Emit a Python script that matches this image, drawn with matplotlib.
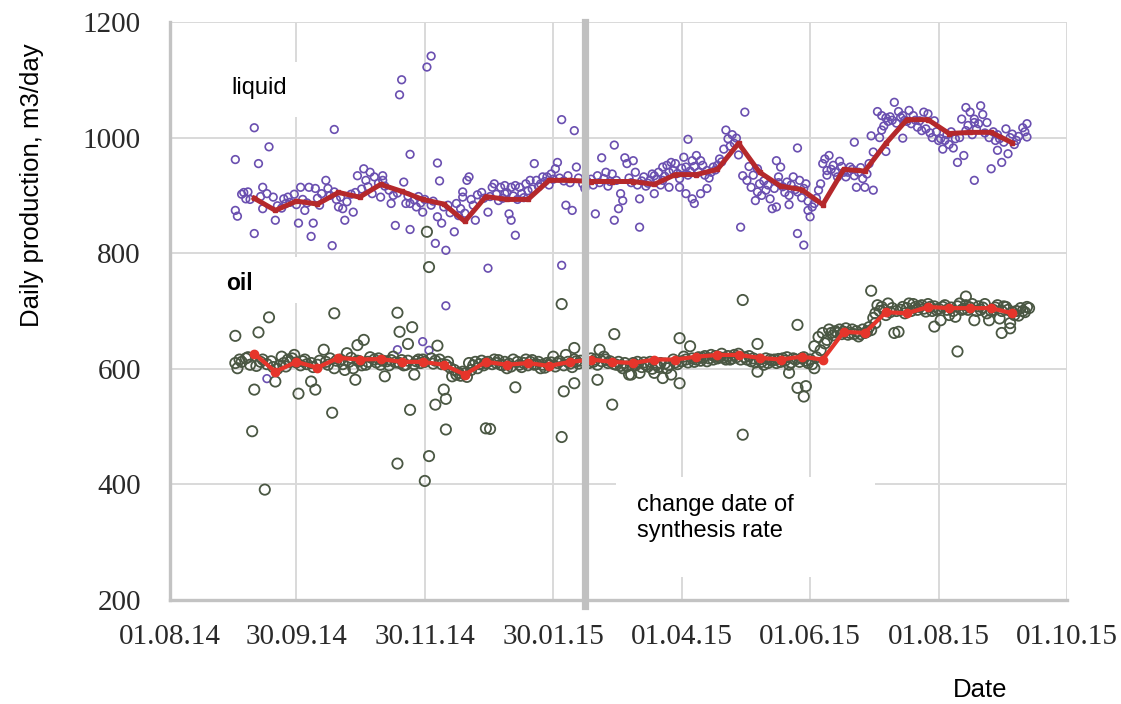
import datetime as dt
import matplotlib
matplotlib.use("Agg")
import matplotlib.pyplot as plt
import matplotlib.dates as mdates
from matplotlib.patches import Rectangle

# ---------------- data (days counted from 01.08.2014) ----------------
start_date = dt.date(2014, 8, 1)

liquid_points = [
    (40,1017),(78,1014),(47,984),(31,962),(42,955),
    (34,902),(36,894),(37,906),(44,914),(46,903),(49,897),(54,894),(56,897),(59,902),(62,914),
    (66,914),(69,912),(72,903),(74,926),(75,912),(78,906),(80,880),
    (31,874),(32,864),(44,877),(50,857),(55,886),(61,852),(64,874),(68,852),(67,829),(40,834),(77,813),
    (46,583),
    (124,1141),(122,1122),(110,1100),(109,1074),(114,971),(127,956),(128,925),(142,932),(141,926),
    (89,934),(92,946),(95,940),(97,932),(101,934),(101,926),(93,926),(111,923),
    (81,897),(86,902),(82,877),(87,871),(83,857),(100,897),(105,886),
    (112,886),(114,886),(117,880),(120,871),(107,848),(114,841),(127,863),(129,852),(126,817),(131,805),(135,837),
    (136,886),(139,897),(139,906),(144,883),(145,857),(124,883),
    (131,709),(120,647),(123,632),(108,633),
    (186,1031),(192,1012),(211,987),(205,965),(216,965),(173,955),
    (184,957),(183,946),(181,937),(179,932),(177,932),(174,926),(171,926),(169,920),(166,914),(164,917),
    (162,914),(159,917),(157,914),(154,920),(153,914),
    (189,934),(193,949),(159,903),(161,868),(162,857),(164,831),(151,871),(188,883),(191,874),(196,920),
    (197,912),(202,868),(211,857),
    (203,934),(207,940),(210,937),(212,926),(214,903),(215,891),(213,877),(217,955),
    (151,774),(186,779),
    (273,1044),(246,997),(264,1013),(267,1005),(269,999),(265,998),(263,980),(271,845),(223,845),
    (220,960),(221,940),(225,932),(223,894),(228,926),(230,934),(232,940),(234,949),(236,952),(238,957),
    (240,955),(234,926),(237,914),(230,903),(229,937),
    (244,966),(245,949),(248,960),(250,969),(252,960),(253,952),(251,940),(255,943),(258,949),(261,963),
    (242,914),(245,903),(248,894),(249,886),(252,903),(255,912),(242,929),
    (272,934),(274,926),(276,914),(279,906),(278,891),(281,900),(283,909),(285,894),(286,877),(279,946),
    (298,982),(288,960),(290,949),(289,932),(288,880),(293,923),(296,932),(299,926),(302,920),(294,900),
    (294,884),(298,906),(301,912),(298,834),(301,814),(303,874),(304,863),(306,886),(308,909),
    (310,955),(311,963),(313,969),(312,943),(315,952),(318,959),(320,940),(321,932),(323,949),(317,932),
    (325,934),(326,914),(329,929),(330,914),(331,937),(334,909),(325,992),
    (333,1003),(338,1013),(340,976),(336,1045),(338,1038),(340,1034),(342,1036),(344,1061),(346,1045),
    (348,1038),(348,999),(351,1047),(353,1038),(355,1018),(356,1029),
    (358,1044),(360,1041),(357,1012),(363,1029),(365,995),(367,980),(368,995),(370,988),(372,982),(373,998),
    (374,957),(377,969),(378,1052),(380,1044),(382,1032),(385,1055),(386,1040),(388,1026),(376,1032),
    (379,1021),(382,1026),(384,1024),(382,926),(390,946),(393,978),(395,957),(397,1015),(398,972),
    (400,1006),(402,995),(405,1017),(407,1024),(407,1001),(394,998),(392,995),
]

liquid_band_points = [
    (35,905),(38,893),(43,898),(51,882),(53,878),(57,888),(60,884),(63,893),(65,887),(70,895),(71,883),
    (76,900),(79,893),(84,889),(88,905),(91,911),(94,915),(96,903),(99,921),(102,916),(104,909),(106,900),
    (108,904),(113,899),(116,892),(118,898),(119,887),(121,893),(125,890),(130,880),(132,883),(133,870),
    (137,865),(138,877),(140,869),(143,893),(146,901),(148,905),(149,895),(152,898),(155,902),(156,891),
    (158,895),(160,905),(163,899),(165,893),(167,903),(168,896),(170,908),(172,911),(175,915),(176,920),
    (178,924),(180,918),(182,928),(185,930),(187,925),(190,922),(194,930),(198,925),(200,928),(201,918),
    (204,922),(206,929),(208,916),(209,924),(218,930),(219,922),(222,918),(224,925),(226,916),(227,921),
    (231,928),(233,918),(235,933),(237,940),(239,943),(241,938),(243,947),(246,935),(247,942),(249,950),
    (254,935),(256,930),(257,940),(259,944),(260,952),(262,958),(266,985),(268,990),(270,970),(275,950),
    (277,935),(280,920),(282,925),(284,918),(287,912),(289,922),(291,915),(292,905),(295,918),(297,910),
    (300,896),(303,890),(305,880),(307,895),(309,920),(312,935),(314,945),(316,940),(319,950),(322,940),
    (324,945),(327,940),(328,948),(332,955),(334,975),(337,1000),(339,1020),(341,1028),(343,1030),
    (345,1025),(347,1035),(349,1030),(350,1028),(352,1024),(354,1030),(359,1015),(361,1008),(362,1000),
    (364,1010),(366,998),(369,1005),(371,1010),(375,1000),(378,1012),(381,1005),(383,1015),(387,1008),
    (389,1000),(391,1010),(393,1005),(396,992),(399,1000),(401,988),(403,1002),(406,1010),
]

oil_points = [
    (47,689),(31,657),(42,663),(78,696),
    (31,610),(33,616),(36,618),(38,607),(44,616),(48,613),(53,621),(56,616),(59,624),(64,616),(67,610),
    (73,633),(75,607),(78,601),(32,601),(54,610),
    (50,578),(40,564),(61,557),(67,578),(69,564),(77,524),(39,492),(45,391),
    (122,837),(123,776),(108,697),(109,664),(115,672),(113,643),(89,641),(92,650),(127,640),
    (81,616),(84,627),(87,601),(90,613),(93,607),(97,616),(100,607),(103,613),(106,621),(109,610),
    (112,607),(117,613),(120,616),(124,618),(128,616),(131,607),(83,598),(102,587),(88,581),(116,590),
    (134,587),(137,593),(142,610),(146,601),
    (130,564),(131,548),(126,538),(114,529),(131,495),(150,497),(108,436),(123,449),(121,406),
    (186,712),(211,660),(152,496),(186,482),(164,568),(187,561),(192,575),(203,581),(210,538),(204,633),
    (150,610),(154,616),(157,607),(160,601),(163,616),(166,607),(169,616),(173,607),(176,601),(179,610),
    (182,621),(185,613),(188,624),(192,636),(192,616),(202,616),(206,621),(209,613),(212,607),(215,601),
    (218,590),
    (272,719),(272,486),(242,653),(247,639),(279,643),
    (220,610),(223,593),(226,607),(230,593),(233,610),(236,601),(238,590),(242,575),(239,616),(244,621),
    (250,616),(255,613),(260,618),(264,616),(268,624),(271,616),(276,613),(279,595),(282,607),(285,616),
    (219,590),(234,584),
    (333,735),(298,676),(287,616),(291,618),(294,607),(297,616),(300,618),(303,610),(306,601),(294,593),
    (298,567),(302,570),(301,552),
    (306,639),(308,655),(310,662),(313,668),(314,662),(311,644),(317,662),(322,659),(327,656),(330,662),
    (333,667),(335,679),
    (335,696),(338,707),(341,713),(344,662),(346,664),(348,707),(351,713),(354,707),(336,710),(340,693),
    (378,725),(375,713),(374,630),(395,662),(363,673),
    (356,707),(359,699),(361,707),(364,702),(367,707),(370,693),(373,690),(376,702),(379,702),(382,684),
    (385,702),(388,696),(391,702),(394,687),(397,707),(399,679),(401,693),(404,705),(407,707),(408,705),
    (366,684),(389,684),(399,670),
]

oil_band_points = [
    (34,612),(37,620),(41,605),(43,612),(46,608),(49,603),(51,600),(52,606),(55,604),(57,612),(58,618),
    (60,611),(62,606),(63,613),(65,608),(68,603),(70,607),(71,614),(74,612),(76,618),(79,614),(82,608),
    (85,612),(86,619),(89,614),(91,606),(94,612),(95,620),(98,611),(99,618),(101,614),(104,606),(105,615),
    (107,611),(110,615),(111,606),(113,614),(116,608),(118,616),(119,610),(121,612),(125,609),(126,614),
    (129,608),(132,612),(133,602),(135,598),(136,590),(138,588),(139,595),(140,592),(141,586),(143,598),
    (144,606),(145,612),(147,608),(148,614),(149,606),(151,612),(153,608),(155,610),(156,615),(158,606),
    (159,612),(161,609),(162,604),(165,612),(167,603),(168,610),(170,606),(171,612),(172,615),(174,608),
    (175,612),(177,607),(178,602),(180,606),(181,611),(183,604),(184,610),(187,606),(189,612),(190,609),
    (191,603),(193,613),(194,609),(195,614),(199,610),(200,618),(201,612),(203,607),(205,613),(207,616),
    (208,610),(211,608),(213,612),(214,605),(216,610),(217,604),(221,606),(222,612),(224,603),(225,611),
    (227,604),(228,612),(229,600),(231,607),(232,603),(235,609),(237,606),(240,611),(241,608),(243,613),
    (245,616),(246,611),(248,618),(249,612),(251,620),(252,614),(253,619),(254,622),(256,618),(257,624),
    (258,616),(259,622),(261,620),(262,626),(263,619),(265,622),(266,616),(267,618),(269,620),(270,626),
    (273,620),(274,616),(275,622),(277,618),(278,611),(280,616),(281,612),(283,618),(284,610),(286,614),
    (288,610),(289,617),(290,612),(292,614),(293,620),(295,611),(296,618),(299,612),(301,620),(302,614),
    (304,616),(305,608),(307,620),(309,632),(312,650),(315,658),(316,665),(318,668),(319,660),(320,664),
    (321,670),(323,662),(324,668),(325,660),(326,665),(328,660),(329,668),(331,664),(332,672),(334,688),
    (337,700),(339,702),(342,698),(343,705),(345,700),(347,702),(349,696),(350,705),(352,700),(353,712),
    (355,702),(357,710),(358,704),(360,712),(362,700),(363,708),(365,704),(368,710),(369,702),(371,706),
    (372,700),(374,708),(377,704),(378,710),(380,706),(381,712),(383,700),(384,708),(386,706),(387,712),
    (390,700),(392,706),(393,710),(395,700),(396,708),(398,702),(400,698),(402,700),(403,692),(405,700),
    (406,698),
]

# ten-day averages
avg_days = [40, 50, 60, 70, 80, 90, 100, 110, 120, 130, 140, 150, 160, 170, 180, 190, 200, 210, 220,
            230, 240, 250, 260, 270, 280, 290, 300, 310, 320, 330, 340, 350, 360, 370, 380, 390, 400]
liquid_avg = [895, 874, 890, 885, 905, 897, 919, 907, 893, 885, 855, 898, 893, 893, 926, 926, 924, 924, 924,
              919, 936, 936, 945, 990, 940, 916, 910, 884, 945, 942, 990, 1031, 1031, 1007, 1009, 1009, 991]
oil_avg = [626, 595, 612, 602, 619, 616, 617, 612, 612, 607, 590, 612, 607, 610, 605, 612, 616, 612, 610,
           616, 616, 621, 624, 624, 619, 616, 621, 616, 664, 662, 698, 696, 707, 705, 705, 705, 696]

change_date = dt.date(2015, 2, 14)

tick_dates = [dt.date(2014, 8, 1), dt.date(2014, 9, 30), dt.date(2014, 11, 30), dt.date(2015, 1, 30),
              dt.date(2015, 4, 1), dt.date(2015, 6, 1), dt.date(2015, 8, 1), dt.date(2015, 10, 1)]
tick_labels = ["01.08.14", "30.09.14", "30.11.14", "30.01.15", "01.04.15", "01.06.15", "01.08.15", "01.10.15"]
y_ticks = [200, 400, 600, 800, 1000, 1200]

# ---------------- plotting ----------------
base = mdates.date2num(start_date)

def to_x(days):
    return [base + d for d in days]

fig = plt.figure(figsize=(11.21, 7.04), dpi=100)
ax = fig.add_axes([0.1517, 0.1477, 0.8001, 0.8211])

ax.set_xlim(mdates.date2num(tick_dates[0]), mdates.date2num(tick_dates[-1]))
ax.set_ylim(200, 1200)
ax.set_xticks([mdates.date2num(d) for d in tick_dates])
ax.set_xticklabels(tick_labels)
ax.set_yticks(y_ticks)
ax.set_yticklabels([str(v) for v in y_ticks])
ax.tick_params(axis="both", length=0, labelsize=21, labelcolor="#2a2a2a")
ax.tick_params(axis="x", pad=17)
ax.tick_params(axis="y", pad=21)
for lab in ax.get_xticklabels() + ax.get_yticklabels():
    lab.set_family("Liberation Serif")

ax.grid(True, color="#d9d9d9", linewidth=1.4, zorder=0)
ax.set_axisbelow(True)
for s in ("top", "right"):
    ax.spines[s].set_visible(False)
for s in ("left", "bottom"):
    ax.spines[s].set_color("#c3c3c3")
    ax.spines[s].set_linewidth(2.4)

# white label boxes
for (x0, y0, w, h) in [(0.0446, 0.8356, 0.1561, 0.0952),
                       (0.0468, 0.5138, 0.0948, 0.0796),
                       (0.4972, 0.0398, 0.2888, 0.1730)]:
    ax.add_patch(Rectangle((x0, y0), w, h, transform=ax.transAxes, facecolor="white",
                           edgecolor="none", zorder=1))

all_liquid = liquid_points + liquid_band_points
all_oil = oil_points + oil_band_points
ld = [p[0] for p in all_liquid]
lv = [p[1] for p in all_liquid]
od = [p[0] for p in all_oil]
ov = [p[1] for p in all_oil]

ax.scatter(to_x(ld), lv, s=30, facecolors="none", edgecolors="#6a4fb0", linewidths=1.2, zorder=3)
ax.scatter(to_x(od), ov, s=55, facecolors="none", edgecolors="#4a5743", linewidths=1.3, zorder=3)

ax.plot(to_x(avg_days), liquid_avg, color="#b5282b", linewidth=3.6, marker="s", markersize=3.5,
        zorder=4, solid_joinstyle="round")
ax.plot(to_x(avg_days), oil_avg, color="#e6352b", linewidth=3.0, marker="o", markersize=6,
        zorder=4, solid_joinstyle="round")

ax.axvline(mdates.date2num(change_date), ymin=-0.01, ymax=1.0, color="#c0c0c0", linewidth=5.2,
           zorder=6, clip_on=False)

ax.text(0.068, 0.886, "liquid", transform=ax.transAxes, fontsize=17, family="Liberation Sans",
        va="center", ha="left", zorder=5)
ax.text(0.0624, 0.548, "oil", transform=ax.transAxes, fontsize=16.5, family="Liberation Sans",
        fontweight="bold", va="center", ha="left", zorder=5)
ax.text(0.5206, 0.1419, "change date of\nsynthesis rate", transform=ax.transAxes, fontsize=17,
        family="Liberation Sans", va="center", ha="left", linespacing=1.27, zorder=5)

fig.text(32 / 1121, 1 - 185 / 704, "Daily production, m3/day", rotation=90, fontsize=18.5,
         family="Liberation Sans", ha="center", va="center")
fig.text(980 / 1121, 1 - 690 / 704, "Date", fontsize=18.5, family="Liberation Sans",
         ha="center", va="center")

fig.savefig("out.png", dpi=100)
